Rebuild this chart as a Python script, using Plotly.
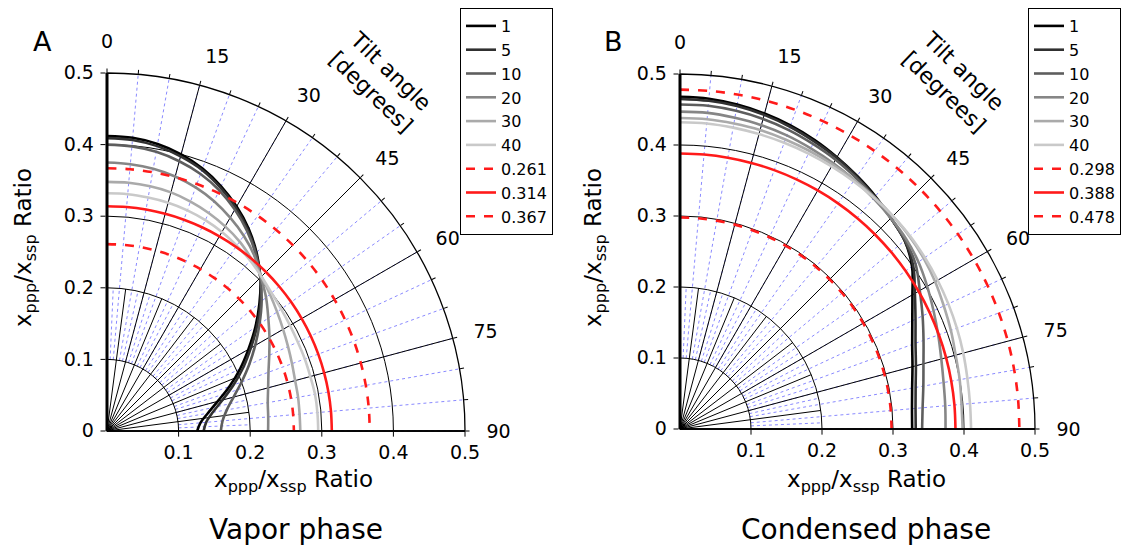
import plotly.graph_objects as go

# ---------------- data ----------------
tilt = [0, 5, 10, 15, 20, 25, 30, 35, 40, 45, 50, 55, 60, 65, 70, 75, 80, 85, 90]
widths = ["1", "5", "10", "20", "30", "40"]

vapor = {
    "1":  [0.412, 0.411, 0.407, 0.400, 0.390, 0.377, 0.362, 0.345, 0.325, 0.303, 0.278, 0.253, 0.228, 0.205, 0.182, 0.160, 0.143, 0.131, 0.126],
    "5":  [0.409, 0.408, 0.404, 0.397, 0.388, 0.375, 0.360, 0.343, 0.324, 0.303, 0.280, 0.256, 0.232, 0.210, 0.188, 0.167, 0.150, 0.139, 0.135],
    "10": [0.400, 0.399, 0.396, 0.390, 0.382, 0.371, 0.357, 0.341, 0.323, 0.303, 0.282, 0.260, 0.239, 0.219, 0.200, 0.183, 0.170, 0.162, 0.159],
    "20": [0.375, 0.374, 0.372, 0.368, 0.362, 0.354, 0.344, 0.333, 0.320, 0.304, 0.290, 0.275, 0.262, 0.250, 0.240, 0.233, 0.228, 0.226, 0.225],
    "30": [0.348, 0.348, 0.347, 0.345, 0.341, 0.336, 0.330, 0.323, 0.314, 0.305, 0.297, 0.290, 0.284, 0.279, 0.275, 0.272, 0.271, 0.270, 0.270],
    "40": [0.332, 0.332, 0.331, 0.330, 0.328, 0.325, 0.321, 0.316, 0.311, 0.305, 0.300, 0.297, 0.295, 0.294, 0.294, 0.294, 0.295, 0.295, 0.295],
}
condensed = {
    "1":  [0.468, 0.467, 0.464, 0.460, 0.455, 0.449, 0.442, 0.435, 0.428, 0.420, 0.413, 0.399, 0.378, 0.361, 0.348, 0.339, 0.332, 0.328, 0.327],
    "5":  [0.465, 0.464, 0.462, 0.458, 0.453, 0.447, 0.441, 0.434, 0.427, 0.420, 0.413, 0.401, 0.382, 0.366, 0.353, 0.344, 0.337, 0.333, 0.332],
    "10": [0.457, 0.457, 0.455, 0.452, 0.448, 0.443, 0.438, 0.432, 0.426, 0.420, 0.414, 0.405, 0.390, 0.377, 0.365, 0.355, 0.348, 0.343, 0.341],
    "20": [0.447, 0.447, 0.445, 0.443, 0.440, 0.436, 0.432, 0.428, 0.424, 0.420, 0.416, 0.410, 0.402, 0.394, 0.387, 0.381, 0.377, 0.375, 0.374],
    "30": [0.438, 0.438, 0.437, 0.436, 0.434, 0.432, 0.430, 0.428, 0.426, 0.424, 0.422, 0.419, 0.415, 0.410, 0.406, 0.402, 0.400, 0.398, 0.398],
    "40": [0.432, 0.432, 0.431, 0.430, 0.429, 0.428, 0.427, 0.426, 0.425, 0.424, 0.423, 0.421, 0.419, 0.417, 0.415, 0.413, 0.411, 0.410, 0.410],
}
vapor_ref = [0.261, 0.314, 0.367]
condensed_ref = [0.298, 0.388, 0.478]

# grid definition (degrees / ratio units)
major_angles = [0, 15, 30, 45, 60, 75, 90]
minor_angles = list(range(0, 91, 5))
inner_major_angles = [7.5, 22.5, 37.5, 52.5, 67.5, 82.5]
inner_minor_angles = [2.5, 12.5, 17.5, 27.5, 32.5, 42.5, 47.5, 57.5, 62.5, 72.5, 77.5, 87.5]
radial_ticks = [0.1, 0.2, 0.3, 0.4, 0.5]
left_ticks = [0, 0.1, 0.2, 0.3, 0.4, 0.5]
R_MAX, R_INNER, R_MINOR_START = 0.5, 0.2, 0.1

width_colors = ["#000000", "#303030", "#5e5e5e", "#868686", "#aaaaaa", "#c9c9c9"]
ref_dash = ["dash", "solid", "dash"]
RED = "#ff1a1a"
BLUE = "#8a8aff"
FONT = "DejaVu Sans"

W, H = 1138, 548
OFF = 8  # page offset of the figure inside the browser window


def px(x):
    return (x - OFF) / W


def py(y):
    return 1 - (y - OFF) / H


fig = go.Figure()


def add_panel(data, refs, main, legend_name):
    for w, col in zip(widths, width_colors):
        fig.add_trace(go.Scatterpolar(
            r=data[w], theta=tilt, mode="lines", subplot=main,
            line=dict(color=col, width=2.6, shape="spline"),
            name=w, legend=legend_name, hoverinfo="skip"))
    for rv, d in zip(refs, ref_dash):
        fig.add_trace(go.Scatterpolar(
            r=[rv] * len(tilt), theta=tilt, mode="lines", subplot=main,
            line=dict(color=RED, width=2.6, dash=d, shape="spline"),
            name=f"{rv:.3f}", legend=legend_name, hoverinfo="skip"))


def dummy(sub, rv):
    fig.add_trace(go.Scatterpolar(r=[rv], theta=[0], mode="markers",
                                  marker=dict(opacity=0), subplot=sub,
                                  showlegend=False, hoverinfo="skip"))


# panel A: polar..polar5, panel B: polar6..polar10
dummy("polar", R_MAX)
dummy("polar2", R_INNER)
dummy("polar3", R_INNER)
add_panel(vapor, vapor_ref, "polar4", "legend")
dummy("polar5", R_MAX)
dummy("polar6", R_MAX)
dummy("polar7", R_INNER)
dummy("polar8", R_INNER)
add_panel(condensed, condensed_ref, "polar9", "legend2")
dummy("polar10", R_MAX)

tickfont = dict(family=FONT, size=19, color="black")
base_ang = dict(rotation=90, direction="clockwise")


def minor_polar(dom):
    return dict(
        domain=dom, sector=[0, 90], hole=R_MINOR_START / R_MAX, bgcolor="white",
        angularaxis=dict(**base_ang, tickvals=minor_angles,
                         showticklabels=False, ticks="outside", ticklen=4,
                         tickcolor="black", tickwidth=1, showline=False,
                         showgrid=True, gridcolor=BLUE, gridwidth=1, griddash="dot"),
        radialaxis=dict(range=[R_MINOR_START, R_MAX], showgrid=False, showline=False,
                        showticklabels=False, ticks=""),
    )


def inner_minor_polar(dom):
    return dict(
        domain=dom, sector=[0, 90], hole=R_MINOR_START / R_INNER, bgcolor="rgba(0,0,0,0)",
        angularaxis=dict(**base_ang, tickvals=inner_minor_angles,
                         showticklabels=False, ticks="", showline=False,
                         showgrid=True, gridcolor=BLUE, gridwidth=1, griddash="dot"),
        radialaxis=dict(range=[R_MINOR_START, R_INNER], showgrid=False, showline=False,
                        showticklabels=False, ticks=""),
    )


def inner_major_polar(dom):
    return dict(
        domain=dom, sector=[0, 90], bgcolor="rgba(0,0,0,0)",
        angularaxis=dict(**base_ang, tickvals=inner_major_angles,
                         showticklabels=False, ticks="", showline=False,
                         showgrid=True, gridcolor="black", gridwidth=1.2),
        radialaxis=dict(range=[0, R_INNER], showgrid=False, showline=False,
                        showticklabels=False, ticks=""),
    )


def main_polar(dom):
    return dict(
        domain=dom, sector=[0, 90], bgcolor="rgba(0,0,0,0)",
        angularaxis=dict(**base_ang, tickvals=major_angles,
                         ticks="outside", ticklen=17, tickcolor="rgba(0,0,0,0)",
                         showline=True, linecolor="black", linewidth=1.3,
                         showgrid=True, gridcolor="black", gridwidth=1.2,
                         tickfont=tickfont),
        radialaxis=dict(range=[0, R_MAX], tickvals=radial_ticks,
                        angle=0, side="clockwise", tickangle=0,
                        ticks="outside", ticklen=5, tickcolor="black",
                        showline=True, linecolor="black", linewidth=1.3,
                        showgrid=True, gridcolor="black", gridwidth=1.2,
                        tickfont=tickfont),
    )


def left_polar(dom):
    return dict(
        domain=dom, sector=[0, 90], bgcolor="rgba(0,0,0,0)",
        angularaxis=dict(**base_ang, showticklabels=False,
                         ticks="", showline=False, showgrid=False),
        radialaxis=dict(range=[0, R_MAX], tickvals=left_ticks,
                        ticktext=[("%g" % v) for v in left_ticks],
                        angle=90, side="counterclockwise", tickangle=90,
                        ticks="outside", ticklen=5, tickcolor="black",
                        showline=True, linecolor="black", linewidth=3,
                        showgrid=False, tickfont=tickfont),
    )


def domain(ox, oy, rad):
    return dict(x=[px(ox), px(ox + rad)], y=[py(oy), py(oy - rad)])


# panel geometry in reference pixels: origin and radius of r = 0.5
OA, RA = (107, 431), 358
OB, RB = (680, 429), 355
domA, domA_in = domain(*OA, RA), domain(*OA, RA * R_INNER / R_MAX)
domB, domB_in = domain(*OB, RB), domain(*OB, RB * R_INNER / R_MAX)

legend_common = dict(bgcolor="white", bordercolor="black", borderwidth=1,
                     font=dict(family=FONT, size=16, color="black"),
                     tracegroupgap=0, itemwidth=30, xanchor="left", yanchor="top")

axis_title = "x<sub>ppp</sub>/x<sub>ssp</sub> Ratio"
annotations = [
    dict(text="A", x=px(42), y=py(42), font=dict(family=FONT, size=27)),
    dict(text="B", x=px(613), y=py(42), font=dict(family=FONT, size=27)),
    dict(text="Vapor phase", x=px(296), y=py(529), font=dict(family=FONT, size=28)),
    dict(text="Condensed phase", x=px(866), y=py(529), font=dict(family=FONT, size=28)),
    dict(text=axis_title, x=px(293), y=py(481), font=dict(family=FONT, size=23)),
    dict(text=axis_title, x=px(866), y=py(481), font=dict(family=FONT, size=23)),
    dict(text=axis_title, x=px(25), y=py(248), textangle=-90, font=dict(family=FONT, size=23)),
    dict(text=axis_title, x=px(595), y=py(248), textangle=-90, font=dict(family=FONT, size=23)),
    dict(text="Tilt angle<br>[degrees]", x=px(381), y=py(82), textangle=44,
         font=dict(family=FONT, size=22)),
    dict(text="Tilt angle<br>[degrees]", x=px(954), y=py(82), textangle=44,
         font=dict(family=FONT, size=22)),
]
for a in annotations:
    a.update(xref="paper", yref="paper", showarrow=False, xanchor="center", yanchor="middle")
    a["font"]["color"] = "black"

fig.update_layout(
    width=W, height=H, margin=dict(l=0, r=0, t=0, b=0),
    paper_bgcolor="white", plot_bgcolor="white",
    polar=minor_polar(domA), polar2=inner_minor_polar(domA_in), polar3=inner_major_polar(domA_in),
    polar4=main_polar(domA), polar5=left_polar(domA),
    polar6=minor_polar(domB), polar7=inner_minor_polar(domB_in), polar8=inner_major_polar(domB_in),
    polar9=main_polar(domB), polar10=left_polar(domB),
    legend=dict(x=px(460), y=py(8), **legend_common),
    legend2=dict(x=px(1028), y=py(8), **legend_common),
    annotations=annotations,
    showlegend=True,
)

fig.write_html("out.html")
